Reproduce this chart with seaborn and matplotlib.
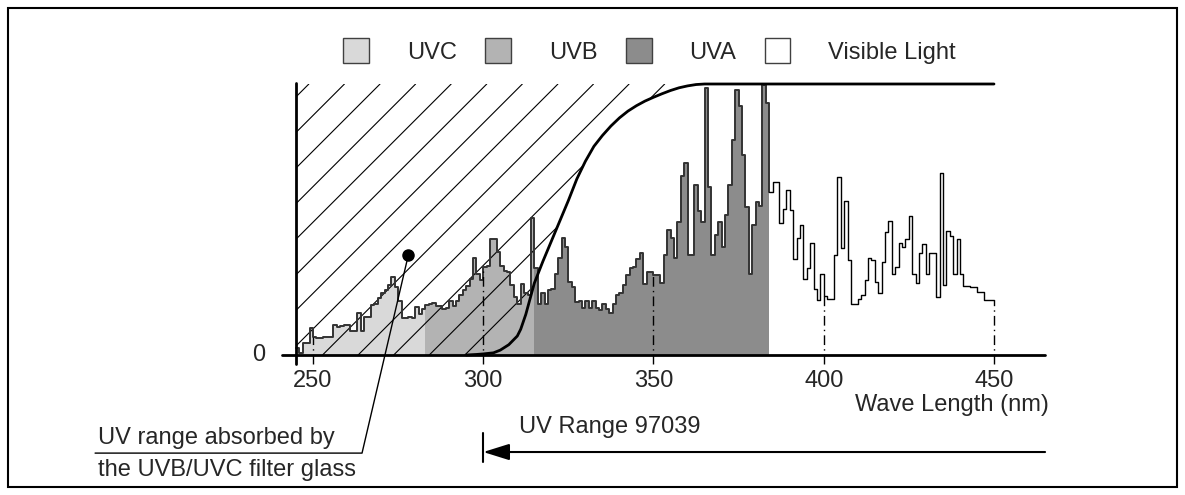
import numpy as np
import matplotlib
matplotlib.use('Agg')
import matplotlib.pyplot as plt
from matplotlib.patches import Patch, Rectangle
import seaborn as sns

sns.set_theme(style='white')
plt.rcParams['font.family'] = ['Liberation Sans', 'DejaVu Sans']

# --- datos del espectro (bins de 1 nm, borde izquierdo) ---
wavelength = list(range(245, 450))
intensity = [
    0.026, 0.009, 0.044, 0.044, 0.10, 0.066, 0.063, 0.063, 0.066, 0.066,
    0.068, 0.11, 0.105, 0.108, 0.11, 0.11, 0.09, 0.09, 0.155, 0.09,
    0.14, 0.14, 0.185, 0.19, 0.21, 0.23, 0.24, 0.26, 0.289, 0.25,
    0.20, 0.136, 0.136, 0.14, 0.136, 0.177, 0.15, 0.17, 0.185, 0.19,
    0.193, 0.18, 0.182, 0.17, 0.175, 0.20, 0.18, 0.20, 0.22, 0.24,
    0.255, 0.28, 0.357, 0.30, 0.277, 0.326, 0.33, 0.427, 0.427, 0.38,
    0.33, 0.31, 0.307, 0.258, 0.215, 0.188, 0.262, 0.23, 0.22, 0.505,
    0.32, 0.19, 0.23, 0.19, 0.24, 0.245, 0.30, 0.357, 0.43, 0.40,
    0.27, 0.25, 0.197, 0.20, 0.173, 0.20, 0.175, 0.20, 0.175, 0.166,
    0.19, 0.17, 0.155, 0.19, 0.22, 0.23, 0.258, 0.295, 0.32, 0.325,
    0.354, 0.378, 0.262, 0.307, 0.307, 0.295, 0.295, 0.265, 0.37, 0.46,
    0.43, 0.357, 0.49, 0.66, 0.71, 0.369, 0.369, 0.627, 0.53, 0.49,
    0.984, 0.62, 0.369, 0.443, 0.49, 0.40, 0.517, 0.627, 0.793, 0.978,
    0.92, 0.738, 0.547, 0.30, 0.48, 0.566, 0.55, 0.996, 0.93, 0.60,
    0.64, 0.64, 0.486, 0.54, 0.61, 0.535, 0.353, 0.43, 0.48, 0.28,
    0.32, 0.414, 0.242, 0.203, 0.30, 0.218, 0.205, 0.205, 0.369, 0.658,
    0.394, 0.57, 0.35, 0.187, 0.187, 0.205, 0.22, 0.277, 0.357, 0.35,
    0.27, 0.23, 0.344, 0.455, 0.495, 0.30, 0.325, 0.414, 0.40, 0.427,
    0.513, 0.30, 0.267, 0.378, 0.41, 0.30, 0.378, 0.378, 0.215, 0.673,
    0.258, 0.459, 0.44, 0.30, 0.427, 0.30, 0.255, 0.255, 0.25, 0.252,
    0.231, 0.231, 0.203, 0.203, 0.203,
]

band_names = ['UVC', 'UVB', 'UVA', 'Visible Light']
band_edges = [245, 283, 315, 384, 450]
band_colors = ['#d9d9d9', '#b3b3b3', '#8c8c8c', 'white']

# curva de transmisión del vidrio filtro
filter_wl = [295, 298, 300, 303, 305, 307.5, 310, 311, 312.5, 315, 317.5, 320,
             322.5, 325, 327.5, 330, 332.5, 335, 337.5, 340, 342.5, 345,
             347.5, 350, 352.5, 355, 357.5, 360, 362.5, 365, 370, 450]
filter_trans = [0.0, 0.002, 0.004, 0.008, 0.018, 0.038, 0.07, 0.095, 0.15, 0.265,
                0.345, 0.42, 0.495, 0.57, 0.65, 0.715, 0.77, 0.81, 0.845, 0.875,
                0.9, 0.92, 0.937, 0.951, 0.964, 0.976, 0.986, 0.993, 0.998,
                1.0, 1.0, 1.0]

tick_positions = [250, 300, 350, 400, 450]

# --- escala: nm -> px (fig 1185x495) ---
PX_NM = 3.405
X250 = 313
Y0PX = 355
PX_UNIT = 271
W, H = 1185, 495

fig = plt.figure(figsize=(W / 100, H / 100), dpi=100)
ax = fig.add_axes([0, 0, 1, 1])
ax.set_xlim(250 - X250 / PX_NM, 250 + (W - X250) / PX_NM)
ax.set_ylim(-(H - Y0PX) / PX_UNIT, Y0PX / PX_UNIT)
ax.axis('off')

wl_edges = np.array(wavelength + [450], dtype=float)
vals = np.array(intensity + [intensity[-1]])

# rellenos por banda
for name, lo, hi, col in zip(band_names, band_edges[:-1], band_edges[1:], band_colors):
    if col == 'white':
        continue
    sl = slice(lo - 245, hi - 245 + 1)
    ax.fill_between(wl_edges[sl], vals[sl], step='post', color=col, lw=0, zorder=1)

# zona rayada (absorbida por el filtro)
hatch_x = [245] + filter_wl[:filter_wl.index(370) + 1]
hatch_low = [0.0] + filter_trans[:filter_wl.index(370) + 1]
poly = ax.fill_between(hatch_x, hatch_low, 1.0, facecolor='none', edgecolor='none')
clip = poly.get_paths()[0]
slope_nm = PX_UNIT / PX_NM
for x0 in np.arange(252.8 - 10.45 * 9, 372, 10.45):
    ln, = ax.plot([x0, x0 + slope_nm], [0, 1], color='black', lw=0.8, zorder=2)
    ln.set_clip_path(clip, ax.transData)

# contorno del espectro
uv = slice(0, 384 - 245 + 1)
vis = slice(384 - 245, None)
sns.lineplot(x=wl_edges[uv], y=vals[uv], drawstyle='steps-post', color='#333333',
             lw=1.4, ax=ax, zorder=3)
sns.lineplot(x=wl_edges[vis], y=vals[vis], drawstyle='steps-post', color='black',
             lw=1.0, ax=ax, zorder=3)

# transmisión
sns.lineplot(x=filter_wl, y=filter_trans, color='black', lw=2.0, ax=ax, zorder=4)

# ejes
ax.plot([241, 465], [0, 0], color='black', lw=2, zorder=5)
ax.plot([245, 245], [-0.035, 1.005], color='black', lw=2, zorder=5)

for t in tick_positions:
    ax.plot([t, t], [-0.035, vals[t - 245]], color='black', lw=1,
            ls=(0, (7, 3, 1, 3)), zorder=5)
    ax.text(t, -0.095, str(t), ha='center', va='center', fontsize=17)
ax.text(236, 0, '0', ha='right', va='center', fontsize=17)
ax.text(466.2, -0.185, 'Wave Length (nm)', ha='right', va='center', fontsize=17)

# anotación del filtro
dot = (278.0, 0.369)
ax.plot([dot[0], 264.4, 186.0], [dot[1], -0.362, -0.362], color='black', lw=1, zorder=6)
ax.plot(*dot, 'o', color='black', ms=8, zorder=6)
ax.text(187.0, -0.306, 'UV range absorbed by', ha='left', va='center', fontsize=17)
ax.text(187.0, -0.424, 'the UVB/UVC filter glass', ha='left', va='center', fontsize=17)

# rango UV
ax.plot([300, 300], [-0.288, -0.395], color='black', lw=1.5)
ax.annotate('', xy=(300, -0.358), xytext=(465, -0.358),
            arrowprops=dict(arrowstyle='-|>,head_length=0.8,head_width=0.25',
                            color='black', lw=1.5, mutation_scale=20,
                            shrinkA=0, shrinkB=0))
ax.text(310.6, -0.265, 'UV Range 97039', ha='left', va='center', fontsize=17)

# leyenda
handles = [Patch(facecolor=c, edgecolor='#404040', lw=1) for c in band_colors]
fig.legend(handles, band_names, loc='center left', bbox_to_anchor=(343 / W, 1 - 51 / H),
           ncol=4, frameon=False, fontsize=17, handlelength=1.1, handleheight=1.25,
           handletextpad=1.6, columnspacing=1.2, borderpad=0, borderaxespad=0)

# marco
fig.patches.append(Rectangle((8 / W, 8 / H), (W - 16) / W, (H - 16) / H,
                             transform=fig.transFigure, fill=False,
                             edgecolor='black', lw=1.5))

fig.savefig('out.png', dpi=100)
plt.close(fig)
